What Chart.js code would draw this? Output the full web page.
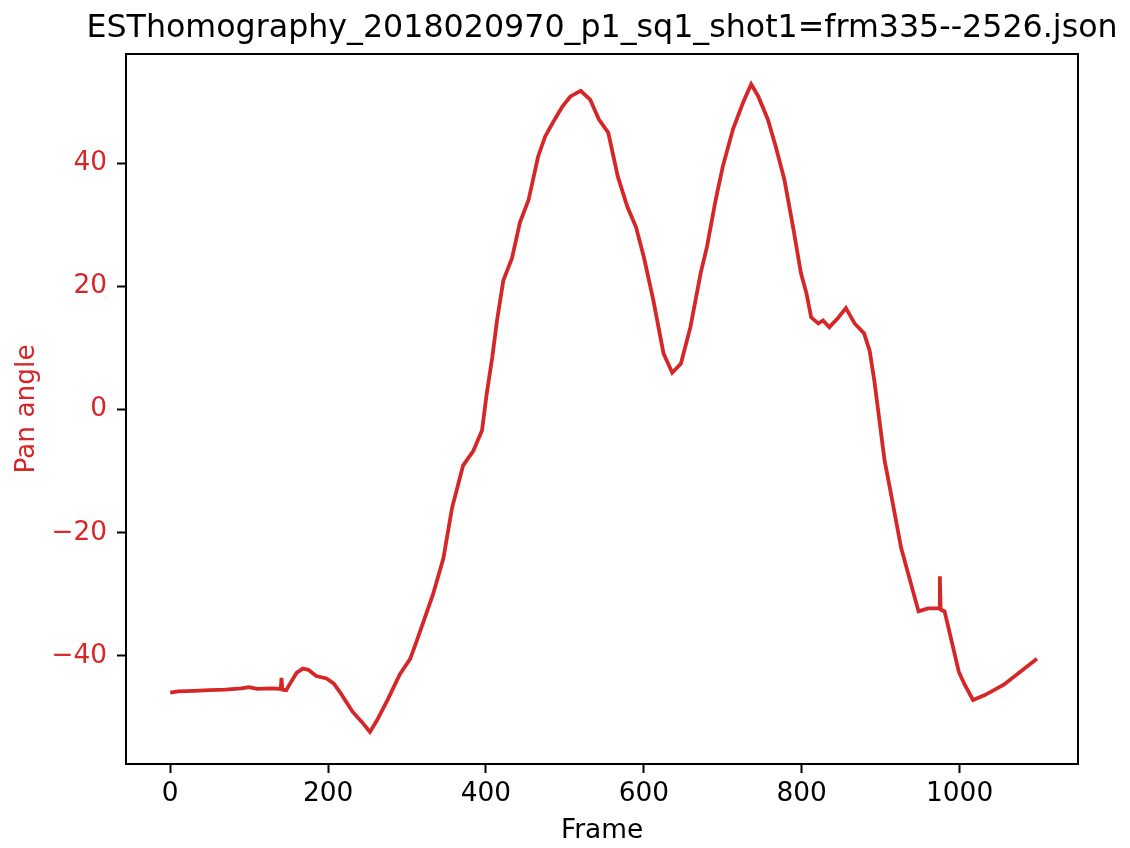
<!DOCTYPE html>
<html>
<head>
<meta charset="utf-8">
<script src="https://cdn.jsdelivr.net/npm/chart.js@4/dist/chart.umd.min.js"></script>
<style>
  html, body { margin: 0; padding: 0; background: #fff; }
  #wrap { width: 1130px; height: 848px; }
</style>
</head>
<body>
<div id="wrap"><canvas id="c" width="1130" height="848"></canvas></div>
<script>
const titleText = "ESThomography_2018020970_p1_sq1_shot1=frm335--2526.json";
const xLabel = "Frame";
const yLabel = "Pan angle";
const xTicks = [0, 200, 400, 600, 800, 1000];
const yTicks = [-40, -20, 0, 20, 40];

const frames = [0, 10, 30, 50, 70, 90, 100, 110, 130, 140, 141, 142, 147, 152, 160, 168, 175, 185, 198, 207,
  215, 223, 231, 243, 253, 262, 276, 291, 304, 312, 333, 346, 357, 371, 384, 395, 401, 408, 414, 422,
  433, 443, 454, 466, 475, 485, 497, 507, 520, 532, 543, 555, 567, 579, 590, 600, 612, 625, 636, 647,
  659, 672, 680, 691, 700, 713, 726, 736, 745, 757, 767, 778, 789, 799, 806, 812, 821, 827, 835, 846,
  856, 867, 879, 886, 892, 905, 910, 926, 948, 960, 974, 975, 976, 981, 999, 1006, 1017, 1032, 1056, 1098];
const panAngle = [-46.0, -45.8, -45.7, -45.6, -45.5, -45.3, -45.1, -45.4, -45.3, -45.4, -43.6, -45.5, -45.6, -44.5, -42.8, -42.1, -42.3, -43.3, -43.7, -44.5,
  -45.9, -47.5, -49.1, -50.8, -52.4, -50.5, -47.0, -43.0, -40.5, -37.7, -30.0, -24.2, -16.0, -9.1, -6.7, -3.4, 2.6, 8.5, 14.5, 21.0,
  24.6, 30.4, 34.1, 41.1, 44.4, 46.7, 49.3, 50.9, 51.8, 50.4, 47.2, 45.0, 37.9, 33.0, 29.7, 24.8, 17.8, 9.1, 6.0, 7.5,
  13.4, 22.2, 26.5, 34.1, 39.5, 45.6, 50.0, 52.9, 50.9, 47.2, 42.8, 37.4, 29.7, 22.2, 18.9, 15.0, 14.0, 14.5, 13.4, 14.9,
  16.5, 14.0, 12.4, 9.6, 4.7, -8.3, -11.6, -22.5, -32.8, -32.3, -32.3, -27.1, -32.5, -32.8, -42.6, -44.6, -47.2, -46.4, -44.7, -40.5];

const RED = '#d62728';
const FONT = "'DejaVu Sans', sans-serif";

const framePlugin = {
  id: 'frameBox',
  afterDatasetsDraw(chart) {
    const a = chart.chartArea, ctx = chart.ctx;
    ctx.save();
    ctx.strokeStyle = '#000';
    ctx.lineWidth = 2;
    ctx.strokeRect(a.left, a.top, a.right - a.left, a.bottom - a.top);
    ctx.restore();
  }
};

// Title centred over the plot area (like matplotlib), baseline just above the frame
const axesTitlePlugin = {
  id: 'axesTitle',
  afterDraw(chart, args, opts) {
    const a = chart.chartArea, ctx = chart.ctx;
    ctx.save();
    ctx.font = opts.font;
    ctx.fillStyle = opts.color;
    ctx.textAlign = 'center';
    ctx.textBaseline = 'alphabetic';
    ctx.fillText(opts.text, (a.left + a.right) / 2, a.top - opts.gap);
    ctx.restore();
  }
};

new Chart(document.getElementById('c'), {
  type: 'line',
  data: {
    datasets: [{
      data: frames.map((f, i) => ({ x: f, y: panAngle[i] })),
      borderColor: RED,
      borderWidth: 3.8,
      pointRadius: 0,
      tension: 0,
      fill: false
    }]
  },
  options: {
    responsive: false,
    animation: false,
    devicePixelRatio: 1,
    layout: { padding: { left: 0, right: 52, top: 54, bottom: 0 } },
    plugins: {
      legend: { display: false },
      tooltip: { enabled: false },
      title: { display: false },
      axesTitle: { text: titleText, font: "31.7px 'DejaVu Sans', sans-serif", color: '#000', gap: 17 }
    },
    scales: {
      x: {
        type: 'linear',
        min: -56,
        max: 1150,
        afterBuildTicks(s) { s.ticks = xTicks.map(v => ({ value: v })); },
        afterFit(s) { s.height = 84; },
        grid: { display: true, drawOnChartArea: false, tickLength: 9, tickWidth: 2, tickColor: '#000' },
        border: { display: false },
        ticks: { color: '#000', font: { family: FONT, size: 26.4 }, padding: 5, maxRotation: 0, autoSkip: false,
          callback: v => String(v) },
        title: { display: true, text: xLabel, color: '#000', font: { family: FONT, size: 26.4 }, padding: { top: 0, bottom: 1 } }
      },
      y: {
        type: 'linear',
        min: -57.6,
        max: 57.8,
        afterBuildTicks(s) { s.ticks = yTicks.map(v => ({ value: v })); },
        afterFit(s) { s.width = 126; },
        grid: { display: true, drawOnChartArea: false, tickLength: 9, tickWidth: 2, tickColor: '#000' },
        border: { display: false },
        ticks: {
          color: RED, font: { family: FONT, size: 26.4 }, padding: 10, autoSkip: false,
          callback: v => (v < 0 ? '\u2212' + Math.abs(v) : String(v))
        },
        title: { display: true, text: yLabel, color: RED, font: { family: FONT, size: 26.4 }, padding: { top: 11, bottom: 0 } }
      }
    }
  },
  plugins: [framePlugin, axesTitlePlugin]
});
</script>
</body>
</html>
